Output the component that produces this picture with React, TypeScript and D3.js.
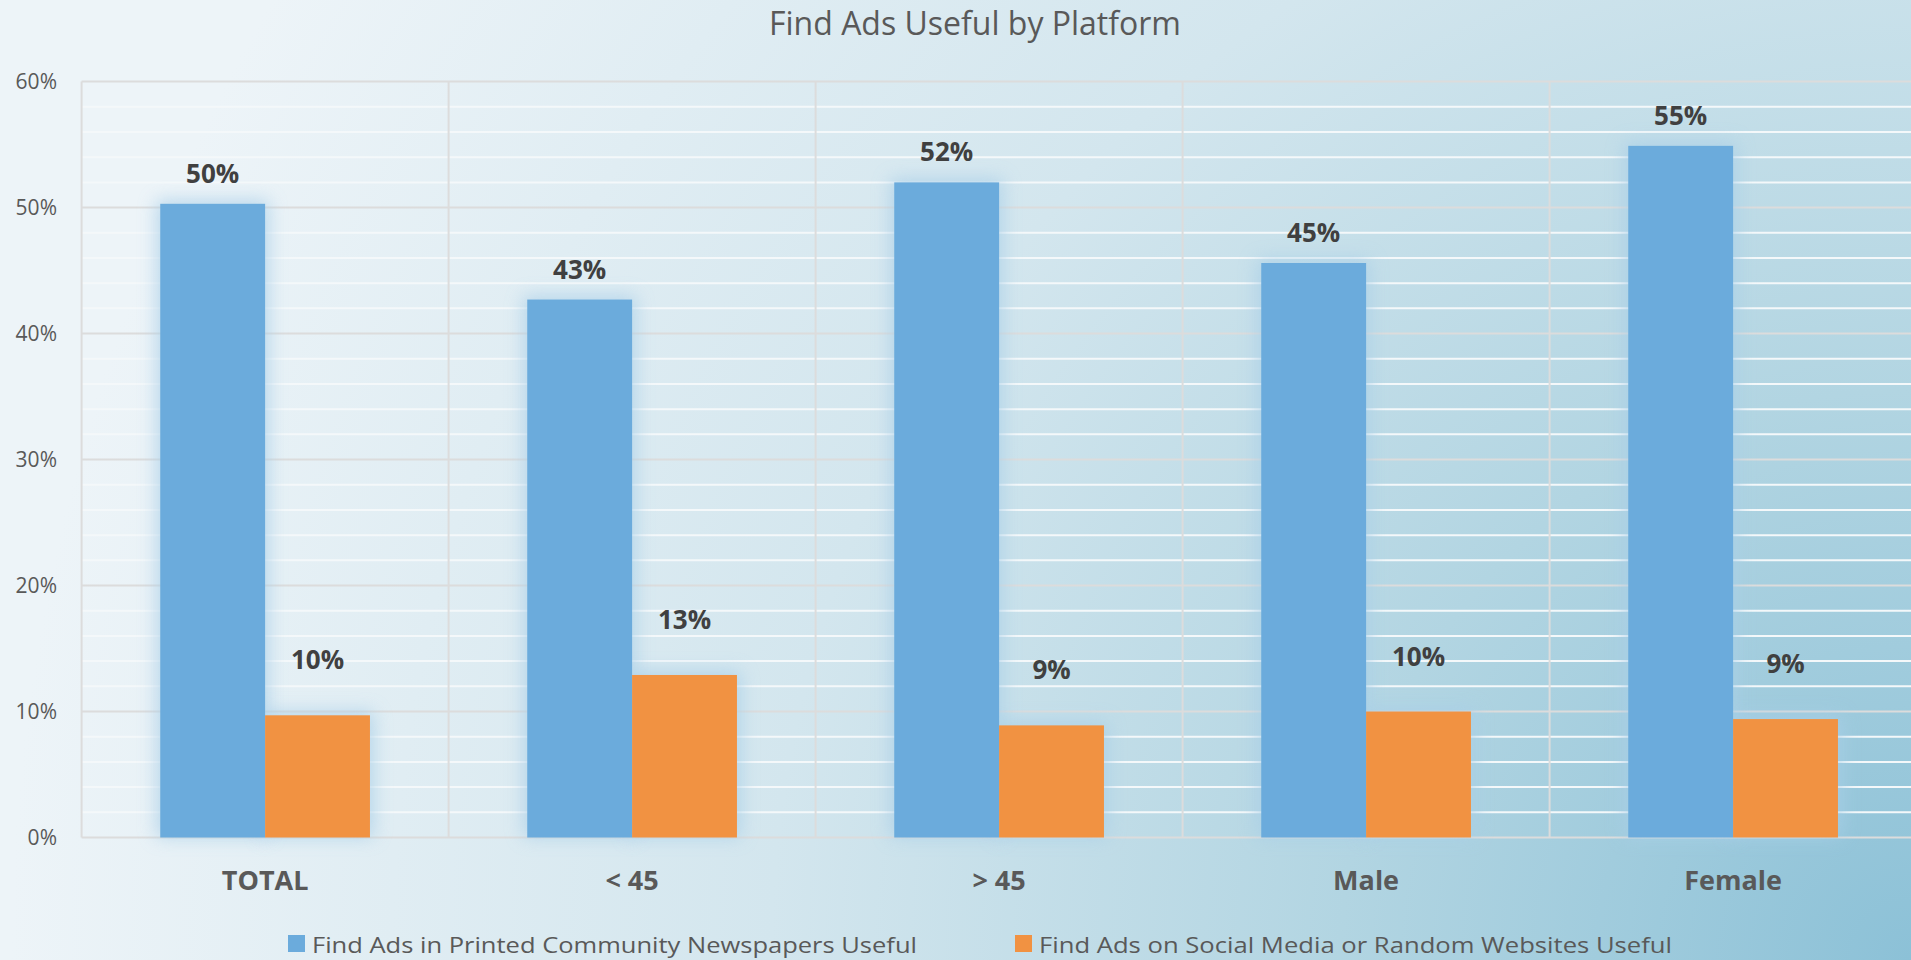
import React from 'react';
import * as d3 from 'd3';

// chart data
const categories = ['TOTAL', '< 45', '> 45', 'Male', 'Female'];
const seriesNames = [
  'Find Ads in Printed Community Newspapers Useful',
  'Find Ads on Social Media or Random Websites Useful',
];
const printedValues = [50.3, 42.7, 52.0, 45.6, 54.9];
const socialValues = [9.7, 12.9, 8.9, 10.0, 9.4];
const printedLabels = ['50%', '43%', '52%', '45%', '55%'];
const socialLabels = ['10%', '13%', '9%', '10%', '9%'];
const yTicks = [0, 10, 20, 30, 40, 50, 60];

const W = 1911;
const H = 960;
const colors = ['#6babdc', '#f19242'];

const App = () => {
  const margin = { top: 81.6, left: 81.6, bottom: 837.5 };
  const band = 367;

  const x = d3.scaleBand()
    .domain(categories)
    .range([margin.left, margin.left + band * categories.length])
    .paddingInner(0)
    .paddingOuter(0);

  const xInner = d3.scaleBand()
    .domain(seriesNames)
    .range([0, x.bandwidth()])
    .paddingInner(0)
    .paddingOuter(0.75);

  const y = d3.scaleLinear().domain([0, 60]).range([margin.bottom, margin.top]);

  const minorTicks = d3.range(0, 61, 2).filter(d => d % 10 !== 0);
  const series = [
    { name: seriesNames[0], values: printedValues, labels: printedLabels, lift: 21 },
    { name: seriesNames[1], values: socialValues, labels: socialLabels, lift: 46 },
  ];
  const plotRight = x.range()[1];

  return (
    <svg width={W} height={H} style={{ position: 'absolute', left: 0, top: 0, display: 'block' }}
      fontFamily="'Open Sans', sans-serif">
      <defs>
        <radialGradient id="bg" cx={W} cy={H} r={1900} gradientUnits="userSpaceOnUse">
          <stop offset="0" stopColor="#8cc1d7" />
          <stop offset="0.3" stopColor="#b2d5e2" />
          <stop offset="0.6" stopColor="#d3e6ee" />
          <stop offset="1" stopColor="#edf4f8" />
        </radialGradient>
        <filter id="glow" x="-30%" y="-30%" width="160%" height="160%">
          <feGaussianBlur stdDeviation="9" />
        </filter>
      </defs>
      <rect width={W} height={H} fill="url(#bg)" />

      <text x={975} y={35} textAnchor="middle" fontSize={32} fill="#595959">Find Ads Useful by Platform</text>

      {/* minor gridlines */}
      {minorTicks.map(t => (
        <line key={'m' + t} x1={margin.left} x2={plotRight} y1={y(t)} y2={y(t)}
          stroke="#f4f8fa" strokeWidth={2} />
      ))}
      {/* major gridlines */}
      {yTicks.map(t => (
        <line key={'g' + t} x1={margin.left} x2={plotRight} y1={y(t)} y2={y(t)}
          stroke="#dcdcdc" strokeWidth={2} />
      ))}
      {categories.map(c => (
        <line key={'v' + c} x1={x(c)} x2={x(c)} y1={margin.top} y2={margin.bottom}
          stroke="#dcdcdc" strokeWidth={2} />
      ))}

      {yTicks.map(t => (
        <text key={'t' + t} x={57} y={y(t)} dy="0.35em" textAnchor="end" fontSize={21} fill="#595959">{t}%</text>
      ))}

      {/* glow behind bars */}
      {series.map(s => categories.map((c, i) => (
        <rect key={'gl' + s.name + c} x={x(c) + xInner(s.name) - 4} y={y(s.values[i]) - 4}
          width={xInner.bandwidth() + 8} height={margin.bottom - y(s.values[i]) + 4}
          fill="#a9cfe8" opacity={0.75} filter="url(#glow)" />
      )))}

      {series.map((s, si) => categories.map((c, i) => (
        <rect key={'b' + s.name + c} x={x(c) + xInner(s.name)} y={y(s.values[i])}
          width={xInner.bandwidth()} height={margin.bottom - y(s.values[i])} fill={colors[si]} />
      )))}

      {series.map(s => categories.map((c, i) => (
        <text key={'l' + s.name + c} x={x(c) + xInner(s.name) + xInner.bandwidth() / 2}
          y={y(s.values[i]) - s.lift} textAnchor="middle" fontSize={26} fontWeight="bold" fill="#404040">
          {s.labels[i]}
        </text>
      )))}

      {categories.map(c => (
        <text key={'c' + c} x={x(c) + x.bandwidth() / 2} y={890} textAnchor="middle"
          fontSize={27} fontWeight="bold" fill="#595959">{c}</text>
      ))}

      {/* legend */}
      <rect x={288} y={935} width={17} height={17} fill={colors[0]} />
      <text x={312} y={953} fontSize={22} fill="#595959" textLength={605} lengthAdjust="spacingAndGlyphs">{seriesNames[0]}</text>
      <rect x={1015} y={935} width={17} height={17} fill={colors[1]} />
      <text x={1039} y={953} fontSize={22} fill="#595959" textLength={633} lengthAdjust="spacingAndGlyphs">{seriesNames[1]}</text>
    </svg>
  );
};

export default App;
